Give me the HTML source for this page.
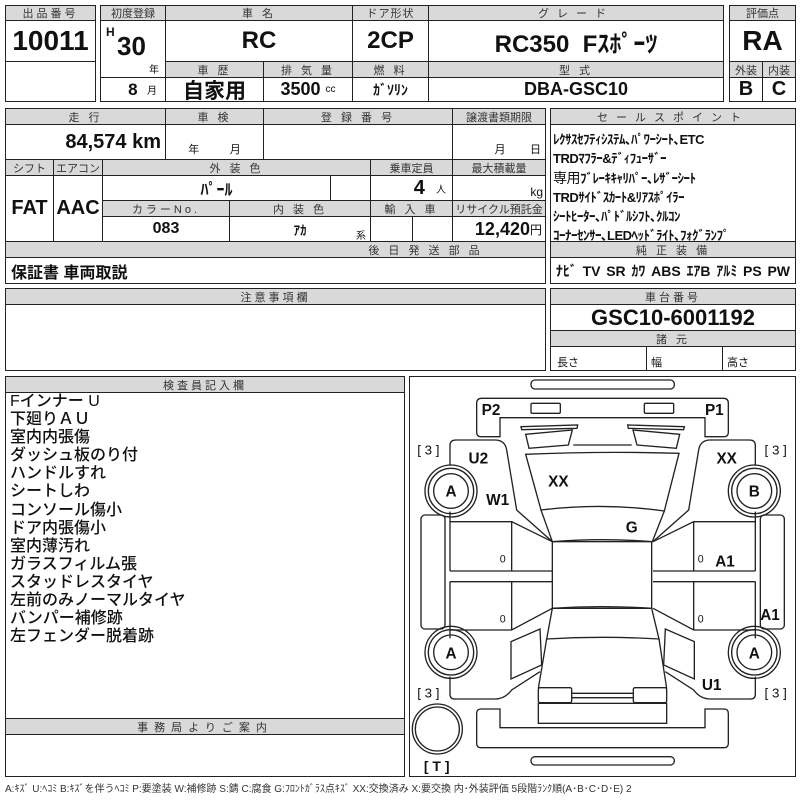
<!DOCTYPE html>
<html><head><meta charset="utf-8"><style>
*{margin:0;padding:0}
body{width:800px;height:800px;background:#fff;position:relative;overflow:hidden;font-family:"Liberation Sans","Noto Sans CJK JP",sans-serif;color:#111}
.c{position:absolute;box-sizing:border-box;border:1px solid #222;display:flex;align-items:center;justify-content:center;white-space:nowrap}
.h{background:#d9d9d9;font-size:11px;letter-spacing:3px;color:#333}
.b{font-weight:bold;font-family:"Liberation Sans Narrow","Liberation Sans","Noto Sans CJK JP",sans-serif}
.s{font-size:10px;font-weight:normal}
.t{position:absolute;white-space:nowrap}
</style></head><body>
<!-- Box1 -->
<div class="c h" style="left:5px;top:5px;width:91px;height:16px">出品番号</div>
<div class="c b" style="left:5px;top:20px;width:91px;height:42px;font-size:28px">10011</div>
<div class="c" style="left:5px;top:61px;width:91px;height:41px"></div>
<!-- Box2 -->
<div class="c h" style="left:100px;top:5px;width:66px;height:16px;letter-spacing:0">初度登録</div>
<div class="c h" style="left:165px;top:5px;width:188px;height:16px">車 名</div>
<div class="c h" style="left:352px;top:5px;width:77px;height:16px;letter-spacing:1px">ドア形状</div>
<div class="c h" style="left:428px;top:5px;width:296px;height:16px;letter-spacing:8px">グレード</div>
<div class="c b" style="left:100px;top:20px;width:66px;height:58px"><span class="t" style="left:5px;top:4px;font-size:12px">H</span><span class="t" style="left:16px;top:10px;font-size:26px">30</span><span class="t s" style="left:48px;top:40px">年</span></div>
<div class="c b" style="left:165px;top:20px;width:188px;height:42px;font-size:24px">RC</div>
<div class="c b" style="left:352px;top:20px;width:77px;height:42px;font-size:24px">2CP</div>
<div class="c b" style="left:428px;top:20px;width:296px;height:42px;font-size:24px">RC350&nbsp; Fｽﾎﾟｰﾂ</div>
<div class="c h" style="left:165px;top:61px;width:99px;height:17px">車 歴</div>
<div class="c h" style="left:263px;top:61px;width:90px;height:17px">排 気 量</div>
<div class="c h" style="left:352px;top:61px;width:77px;height:17px">燃 料</div>
<div class="c h" style="left:428px;top:61px;width:296px;height:17px">型 式</div>
<div class="c b" style="left:100px;top:77px;width:66px;height:25px;font-size:17px;justify-content:flex-end;padding-right:8px">8&nbsp;&nbsp;<span class="s">月</span></div>
<div class="c b" style="left:165px;top:77px;width:99px;height:25px;font-size:21px">自家用</div>
<div class="c b" style="left:263px;top:77px;width:90px;height:25px;font-size:18px">3500&nbsp;<span class="s">cc</span></div>
<div class="c b" style="left:352px;top:77px;width:77px;height:25px;font-size:14px">ｶﾞｿﾘﾝ</div>
<div class="c b" style="left:428px;top:77px;width:296px;height:25px;font-size:18px">DBA-GSC10</div>
<!-- Box3 -->
<div class="c h" style="left:729px;top:5px;width:67px;height:16px;letter-spacing:0">評価点</div>
<div class="c b" style="left:729px;top:20px;width:67px;height:42px;font-size:28px">RA</div>
<div class="c h" style="left:729px;top:61px;width:34px;height:17px;letter-spacing:0">外装</div>
<div class="c h" style="left:762px;top:61px;width:34px;height:17px;letter-spacing:0">内装</div>
<div class="c b" style="left:729px;top:77px;width:34px;height:25px;font-size:20px">B</div>
<div class="c b" style="left:762px;top:77px;width:34px;height:25px;font-size:20px">C</div>
<!-- Block2 -->
<div class="c h" style="left:5px;top:108px;width:161px;height:17px">走 行</div>
<div class="c h" style="left:165px;top:108px;width:99px;height:17px">車 検</div>
<div class="c h" style="left:263px;top:108px;width:190px;height:17px">登 録 番 号</div>
<div class="c h" style="left:452px;top:108px;width:94px;height:17px;letter-spacing:0">譲渡書類期限</div>
<div class="c b" style="left:5px;top:124px;width:161px;height:36px;font-size:20px;justify-content:flex-end;padding-right:4px">84,574 km</div>
<div class="c" style="left:165px;top:124px;width:99px;height:36px;font-size:11px;align-items:flex-end;padding-bottom:2px">年&nbsp;&nbsp;&nbsp;&nbsp;&nbsp;&nbsp;&nbsp;&nbsp;&nbsp;&nbsp;月</div>
<div class="c" style="left:263px;top:124px;width:190px;height:36px"></div>
<div class="c" style="left:452px;top:124px;width:94px;height:36px;font-size:11px;align-items:flex-end;justify-content:flex-end;padding:0 4px 2px 0">月&nbsp;&nbsp;&nbsp;&nbsp;&nbsp;&nbsp;&nbsp;&nbsp;日</div>
<div class="c h" style="left:5px;top:159px;width:49px;height:17px;letter-spacing:0">シフト</div>
<div class="c h" style="left:53px;top:159px;width:50px;height:17px;letter-spacing:0">エアコン</div>
<div class="c h" style="left:102px;top:159px;width:269px;height:17px">外 装 色</div>
<div class="c h" style="left:370px;top:159px;width:83px;height:17px;letter-spacing:0">乗車定員</div>
<div class="c h" style="left:452px;top:159px;width:94px;height:17px;letter-spacing:0">最大積載量</div>
<div class="c b" style="left:5px;top:175px;width:49px;height:67px;font-size:20px">FAT</div>
<div class="c b" style="left:53px;top:175px;width:50px;height:67px;font-size:20px">AAC</div>
<div class="c b" style="left:102px;top:175px;width:229px;height:26px;font-size:16px">ﾊﾟｰﾙ</div>
<div class="c" style="left:330px;top:175px;width:41px;height:26px"></div>
<div class="c b" style="left:370px;top:175px;width:83px;height:26px;font-size:20px;justify-content:flex-end;padding-right:6px">4&nbsp;&nbsp;<span class="s">人</span></div>
<div class="c" style="left:452px;top:175px;width:94px;height:26px;font-size:12px;justify-content:flex-end;align-items:flex-end;padding:0 2px 1px 0">kg</div>
<div class="c h" style="left:102px;top:200px;width:128px;height:17px">カラーNo.</div>
<div class="c h" style="left:229px;top:200px;width:142px;height:17px">内 装 色</div>
<div class="c h" style="left:370px;top:200px;width:83px;height:17px">輸 入 車</div>
<div class="c h" style="left:452px;top:200px;width:94px;height:17px;letter-spacing:0">リサイクル預託金</div>
<div class="c b" style="left:102px;top:216px;width:128px;height:26px;font-size:16px">083</div>
<div class="c b" style="left:229px;top:216px;width:142px;height:26px;font-size:13px">ｱｶ<span class="t s" style="right:4px;top:10px">系</span></div>
<div class="c" style="left:370px;top:216px;width:43px;height:26px"></div>
<div class="c" style="left:412px;top:216px;width:41px;height:26px"></div>
<div class="c b" style="left:452px;top:216px;width:94px;height:26px;font-size:18px;justify-content:flex-end;padding-right:3px">12,420<span class="s" style="font-size:12px">円</span></div>
<div class="c h" style="left:5px;top:241px;width:541px;height:17px;padding-left:300px">後 日 発 送 部 品</div>
<div class="c b" style="left:5px;top:257px;width:541px;height:27px;font-size:16px;justify-content:flex-start;padding-left:5px">保証書 車両取説</div>
<!-- Sales -->
<div class="c h" style="left:550px;top:108px;width:246px;height:17px;letter-spacing:8px">セールスポイント</div>
<div class="c b" style="left:550px;top:124px;width:246px;height:118px;font-size:13px;display:block;padding:5px 0 0 2px;line-height:19.3px;letter-spacing:-0.5px">ﾚｸｻｽｾﾌﾃｨｼｽﾃﾑ､ﾊﾟﾜｰｼｰﾄ､ETC<br>TRDﾏﾌﾗｰ&amp;ﾃﾞｨﾌｭｰｻﾞｰ<br><span style="font-weight:normal;font-size:14px">専用</span>ﾌﾞﾚｰｷｷｬﾘﾊﾟｰ､ﾚｻﾞｰｼｰﾄ<br>TRDｻｲﾄﾞｽｶｰﾄ&amp;ﾘｱｽﾎﾟｲﾗｰ<br>ｼｰﾄﾋｰﾀｰ､ﾊﾟﾄﾞﾙｼﾌﾄ､ｸﾙｺﾝ<br>ｺｰﾅｰｾﾝｻｰ､LEDﾍｯﾄﾞﾗｲﾄ､ﾌｫｸﾞﾗﾝﾌﾟ</div>
<div class="c h" style="left:550px;top:241px;width:246px;height:17px">純 正 装 備</div>
<div class="c b" style="left:550px;top:257px;width:246px;height:27px;font-size:14px;justify-content:space-around;padding:0 2px"><span>ﾅﾋﾞ</span><span>TV</span><span>SR</span><span>ｶﾜ</span><span>ABS</span><span>ｴｱB</span><span>ｱﾙﾐ</span><span>PS</span><span>PW</span></div>
<!-- Block3 -->
<div class="c h" style="left:5px;top:288px;width:541px;height:17px">注意事項欄</div>
<div class="c" style="left:5px;top:304px;width:541px;height:67px"></div>
<div class="c h" style="left:550px;top:288px;width:246px;height:17px">車台番号</div>
<div class="c b" style="left:550px;top:304px;width:246px;height:27px;font-size:22px">GSC10-6001192</div>
<div class="c h" style="left:550px;top:330px;width:246px;height:17px">諸 元</div>
<div class="c" style="left:550px;top:346px;width:97px;height:25px;font-size:11px;justify-content:flex-start;padding:6px 0 0 6px">長さ</div>
<div class="c" style="left:646px;top:346px;width:77px;height:25px;font-size:11px;justify-content:flex-start;padding:6px 0 0 4px">幅</div>
<div class="c" style="left:722px;top:346px;width:74px;height:25px;font-size:11px;justify-content:flex-start;padding:6px 0 0 4px">高さ</div>
<!-- Block4 -->
<div class="c h" style="left:5px;top:376px;width:400px;height:17px">検査員記入欄</div>
<div class="c" style="left:5px;top:392px;width:400px;height:327px;display:block;padding:0 0 0 4px;font-size:16px;line-height:18.1px;font-weight:500">Fインナー U<br>下廻りＡＵ<br>室内内張傷<br>ダッシュ板のり付<br>ハンドルすれ<br>シートしわ<br>コンソール傷小<br>ドア内張傷小<br>室内薄汚れ<br>ガラスフィルム張<br>スタッドレスタイヤ<br>左前のみノーマルタイヤ<br>バンパー補修跡<br>左フェンダー脱着跡</div>
<div class="c h" style="left:5px;top:718px;width:400px;height:17px;letter-spacing:6px">事務局よりご案内</div>
<div class="c" style="left:5px;top:734px;width:400px;height:43px"></div>
<div class="c" style="left:409px;top:376px;width:387px;height:401px"></div>
<div class="t" style="left:5px;top:780px;font-size:10px;color:#333">A:ｷｽﾞ U:ﾍｺﾐ B:ｷｽﾞを伴うﾍｺﾐ P:要塗装 W:補修跡 S:錆 C:腐食 G:ﾌﾛﾝﾄｶﾞﾗｽ点ｷｽﾞ XX:交換済み X:要交換 内･外装評価 5段階ﾗﾝｸ順(A･B･C･D･E) 2</div>
<svg style="position:absolute;left:405px;top:375px" width="395" height="425" viewBox="0 0 1185 1275" fill="none" stroke="#222" stroke-width="4">
<rect x="378" y="15" width="430" height="27" rx="12"/>
<rect x="378" y="1145" width="430" height="25" rx="12"/>
<path d="M230,70 H955 Q970,70 970,85 V172 Q970,185 957,185 H900 V128 H285 V185 H228 Q215,185 215,172 V85 Q215,70 230,70 Z"/>
<path d="M228,1002 H285 V1058 H900 V1002 H957 Q970,1002 970,1015 V1105 Q970,1118 957,1118 H228 Q215,1118 215,1105 V1015 Q215,1002 228,1002 Z"/>
<rect x="378" y="85" width="88" height="30" rx="4"/>
<rect x="718" y="85" width="88" height="30" rx="4"/>
<line x1="505" y1="210" x2="680" y2="210"/>
<path d="M362,238 Q592,228 822,235 L778,408 Q592,382 408,405 Z"/>
<path d="M408,405 L442,500 Q592,488 742,500 L778,408"/>
<rect x="442" y="500" width="298" height="200"/>
<path d="M442,700 Q592,690 740,700 L762,792 Q592,782 425,792 Z"/>
<path d="M425,792 L400,940 M762,792 L785,940"/>
<rect x="400" y="938" width="100" height="45" rx="5"/>
<rect x="685" y="938" width="100" height="45" rx="5"/>
<path d="M500,955 H685 M500,968 H685"/>
<rect x="400" y="985" width="385" height="60"/>
<circle cx="97" cy="1062" r="75"/><circle cx="97" cy="1062" r="66"/>
<g id="side">
<path d="M348,155 L518,150 L516,160 L350,164 Z"/>
<path d="M362,178 L502,165 L490,210 L372,220 Z"/>
<path d="M135,272 V212 Q135,195 152,195 H270 Q300,195 305,225 L335,405 L442,500"/>
<path d="M135,410 V440 H320 L442,500 M320,440 V588 M135,440 V588 M135,588 H442 M135,620 H442 M135,620 V765 H320 L442,700 M320,620 V765"/>
<path d="M135,765 V790"/>
<path d="M318,800 L405,762 L410,870 L318,912 Z"/>
<path d="M135,905 V958 Q135,972 150,972 H270 Q300,972 320,945 L405,890"/>
<rect x="48" y="420" width="72" height="342" rx="12"/>
<circle cx="138" cy="348" r="78"/><circle cx="138" cy="348" r="68"/><circle cx="138" cy="348" r="52"/>
<circle cx="138" cy="832" r="78"/><circle cx="138" cy="832" r="68"/><circle cx="138" cy="832" r="52"/>
</g>
<use href="#side" transform="translate(1186,0) scale(-1,1)"/>
<g fill="#111" stroke="none" font-family="Liberation Sans,sans-serif" font-weight="bold" font-size="46" text-anchor="middle">
<text x="258" y="120">P2</text><text x="928" y="120">P1</text>
<text x="220" y="265">U2</text><text x="965" y="265">XX</text>
<text x="138" y="365">A</text><text x="1048" y="365">B</text>
<text x="138" y="850">A</text><text x="1048" y="850">A</text>
<text x="278" y="390">W1</text><text x="460" y="335">XX</text>
<text x="680" y="472">G</text><text x="960" y="575">A1</text>
<text x="1095" y="735">A1</text><text x="920" y="945">U1</text>
<g font-weight="normal" font-size="40"><text x="70" y="238">[ 3 ]</text><text x="1112" y="238">[ 3 ]</text><text x="70" y="968">[ 3 ]</text><text x="1112" y="968">[ 3 ]</text></g>
<text x="95" y="1188" font-size="42">[ <tspan font-weight="bold">T</tspan> ]</text>
<g font-weight="normal" font-size="32"><text x="293" y="562">0</text><text x="293" y="742">0</text><text x="887" y="562">0</text><text x="887" y="742">0</text></g>
</g>
</svg>
</body></html>
